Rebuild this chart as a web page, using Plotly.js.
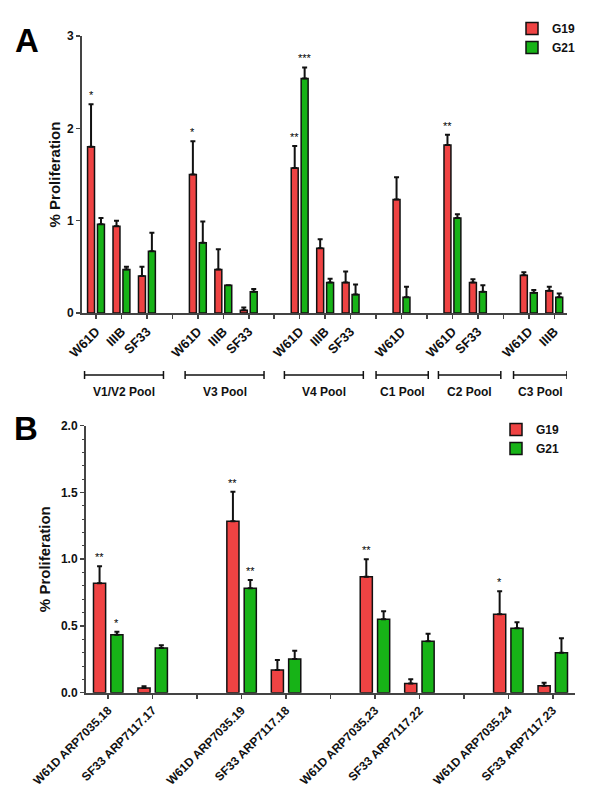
<!DOCTYPE html>
<html>
<head>
<meta charset="utf-8">
<script src="https://cdn.plot.ly/plotly-3.0.1.min.js"></script>
<style>html,body{margin:0;padding:0;background:#fff;}#chart{width:600px;height:800px;}</style>
</head>
<body>
<div id="chart"></div>
<script>
// ---------- Panel A data ----------
const catsA = ['W61D','IIIB','SF33','', 'W61D','IIIB','SF33','', 'W61D','IIIB','SF33','', 'W61D','', 'W61D','SF33','', 'W61D','IIIB'];
const g19A    = [1.80,0.94,0.40,null, 1.50,0.47,0.03,null, 1.57,0.70,0.33,null, 1.23,null, 1.82,0.33,null, 0.41,0.24];
const g19Aerr = [0.46,0.06,0.10,null, 0.36,0.22,0.03,null, 0.24,0.10,0.12,null, 0.24,null, 0.11,0.035,null, 0.03,0.045];
const g21A    = [0.96,0.47,0.67,null, 0.76,0.30,0.23,null, 2.54,0.33,0.20,null, 0.17,null, 1.03,0.23,null, 0.22,0.17];
const g21Aerr = [0.07,0.03,0.20,null, 0.23,0.00,0.03,null, 0.12,0.04,0.11,null, 0.115,null, 0.04,0.07,null, 0.03,0.04];
const poolsA  = ['V1/V2 Pool','V3 Pool','V4 Pool','C1 Pool','C2 Pool','C3 Pool'];
const starsA  = [[0,'G19','*'],[4,'G19','*'],[8,'G19','**'],[8,'G21','***'],[14,'G19','**']];

// ---------- Panel B data ----------
const catsB = ['W61D ARP7035.18','SF33 ARP7117.17','', 'W61D ARP7035.19','SF33 ARP7117.18','', 'W61D ARP7035.23','SF33 ARP7117.22','', 'W61D ARP7035.24','SF33 ARP7117.23'];
const g19B    = [0.82,0.035,null, 1.284,0.17,null, 0.869,0.068,null, 0.587,0.052];
const g19Berr = [0.127,0.013,null, 0.222,0.075,null, 0.13,0.032,null, 0.173,0.023];
const g21B    = [0.435,0.335,null, 0.782,0.252,null, 0.55,0.385,null, 0.482,0.30];
const g21Berr = [0.022,0.02,null, 0.062,0.063,null, 0.06,0.057,null, 0.045,0.107];
const starsB  = [[0,'G19','**'],[0,'G21','*'],[3,'G19','**'],[3,'G21','**'],[6,'G19','**'],[9,'G19','*']];

const seriesNames = ['G19','G21'];
const RED = '#ef4343', GREEN = '#17b317', INK = '#111111', AX = '#444444';
const FONT = 'Liberation Sans, Arial, sans-serif';
const BARGAP = 0.22, GROUPGAP = 0.3;
const halfOff = (1 - BARGAP) / 4;

const xA = catsA.map((_, i) => i);
const xB = catsB.map((_, i) => i);

function barTrace(name, x, y, err, color, xa, ya, legend, show) {
  return {
    type: 'bar', name: name, x: x, y: y, xaxis: xa, yaxis: ya, legend: legend, showlegend: show,
    marker: {color: color, line: {color: INK, width: 1.5}},
    error_y: {type: 'data', array: err, arrayminus: err.map(() => 0), symmetric: false,
              color: INK, thickness: 2, width: 2.5},
    hoverinfo: 'x+y'
  };
}

const data = [
  barTrace(seriesNames[0], xA, g19A, g19Aerr, RED, 'x', 'y', 'legend', true),
  barTrace(seriesNames[1], xA, g21A, g21Aerr, GREEN, 'x', 'y', 'legend', true),
  barTrace(seriesNames[0], xB, g19B, g19Berr, RED, 'x2', 'y2', 'legend2', true),
  barTrace(seriesNames[1], xB, g21B, g21Berr, GREEN, 'x2', 'y2', 'legend2', true)
];

// significance stars
const annotations = [];
function addStars(stars, vals19, err19, vals21, err21, xref, yref) {
  stars.forEach(([slot, s, txt]) => {
    const is19 = s === 'G19';
    const v = is19 ? vals19[slot] + err19[slot] : vals21[slot] + err21[slot];
    annotations.push({x: slot + (is19 ? -halfOff : halfOff), y: v, xref: xref, yref: yref,
      text: txt, showarrow: false, yanchor: 'bottom', yshift: 1,
      font: {family: FONT, size: 11, color: '#000000'}});
  });
}
addStars(starsA, g19A, g19Aerr, g21A, g21Aerr, 'x', 'y');
addStars(starsB, g19B, g19Berr, g21B, g21Berr, 'x2', 'y2');

// pool brackets for panel A
const bracketRanges = [[-0.45,2.65],[3.5,6.6],[7.4,10.5],[11.0,13.05],[13.45,15.9],[16.4,18.5]];
const shapes = [];
const bY = 1 - 375/800, capH = 4/800;
poolsA.forEach((p, i) => {
  const [a, b] = bracketRanges[i];
  shapes.push({type:'line', xref:'x', yref:'paper', x0:a, x1:b, y0:bY, y1:bY, line:{color:INK, width:1.5}});
  shapes.push({type:'line', xref:'x', yref:'paper', x0:a, x1:a, y0:bY-capH, y1:bY+capH, line:{color:INK, width:1.5}});
  shapes.push({type:'line', xref:'x', yref:'paper', x0:b, x1:b, y0:bY-capH, y1:bY+capH, line:{color:INK, width:1.5}});
  annotations.push({x:(a+b)/2, y:1-392/800, xref:'x', yref:'paper', text:p, showarrow:false,
    xanchor:'center', yanchor:'middle', font:{family:FONT, size:12, weight:'bold', color:INK}});
});

// panel letters
annotations.push({x:13/600, y:1-40/800, xref:'paper', yref:'paper', text:'A', showarrow:false,
  xanchor:'left', yanchor:'middle', font:{family:FONT, size:33, weight:'bold', color:'#000'}});
annotations.push({x:12/600, y:1-428/800, xref:'paper', yref:'paper', text:'B', showarrow:false,
  xanchor:'left', yanchor:'middle', font:{family:FONT, size:33, weight:'bold', color:'#000'}});

const axCommon = {showline:true, linecolor:AX, linewidth:2, showgrid:false, zeroline:false,
  ticks:'outside', ticklen:4, tickwidth:1.5, tickcolor:AX, automargin:false};

const layout = {
  width: 600, height: 800, margin: {l:0, r:0, t:0, b:0},
  paper_bgcolor: '#ffffff', plot_bgcolor: '#ffffff',
  barmode: 'group', bargap: BARGAP, bargroupgap: GROUPGAP,
  font: {family: FONT, color: INK},
  xaxis: Object.assign({}, axCommon, {domain:[82/600, 567/600], range:[-0.55, 18.5], anchor:'y',
    tickmode:'array', tickvals:xA, ticktext:catsA, tickangle:-45,
    tickfont:{family:FONT, size:13, weight:'bold', color:INK}}),
  yaxis: Object.assign({}, axCommon, {domain:[1-313/800, 1-36/800], range:[0, 3], anchor:'x',
    tickmode:'array', tickvals:[0,1,2,3],
    tickfont:{family:FONT, size:12, weight:'bold', color:INK},
    title:{text:'% Proliferation', standoff:3, font:{family:FONT, size:15, weight:'bold', color:INK}}}),
  xaxis2: Object.assign({}, axCommon, {domain:[86/600, 575/600], range:[-0.5, 10.5], anchor:'y2',
    tickmode:'array', tickvals:xB, ticktext:catsB, tickangle:-45,
    tickfont:{family:FONT, size:12, weight:'bold', color:INK}}),
  yaxis2: Object.assign({}, axCommon, {domain:[1-692.7/800, 1-425.7/800], range:[0, 2], anchor:'x2',
    dtick:0.5, tickformat:'.1f',
    minor:{dtick:0.1, ticks:'outside', ticklen:2, tickcolor:AX, tickwidth:1, showgrid:false},
    tickfont:{family:FONT, size:12, weight:'bold', color:INK},
    title:{text:'% Proliferation', standoff:7, font:{family:FONT, size:15, weight:'bold', color:INK}}}),
  legend: {x:512/600, y:1-14/800, xanchor:'left', yanchor:'top', bgcolor:'rgba(0,0,0,0)',
    font:{family:FONT, size:12, weight:'bold', color:INK}, tracegroupgap:0, itemclick:false},
  legend2: {x:496/600, y:1-415/800, xanchor:'left', yanchor:'top', bgcolor:'rgba(0,0,0,0)',
    font:{family:FONT, size:12, weight:'bold', color:INK}, tracegroupgap:0, itemclick:false},
  shapes: shapes,
  annotations: annotations
};

Plotly.newPlot('chart', data, layout, {displayModeBar:false, staticPlot:true});
</script>
</body>
</html>
